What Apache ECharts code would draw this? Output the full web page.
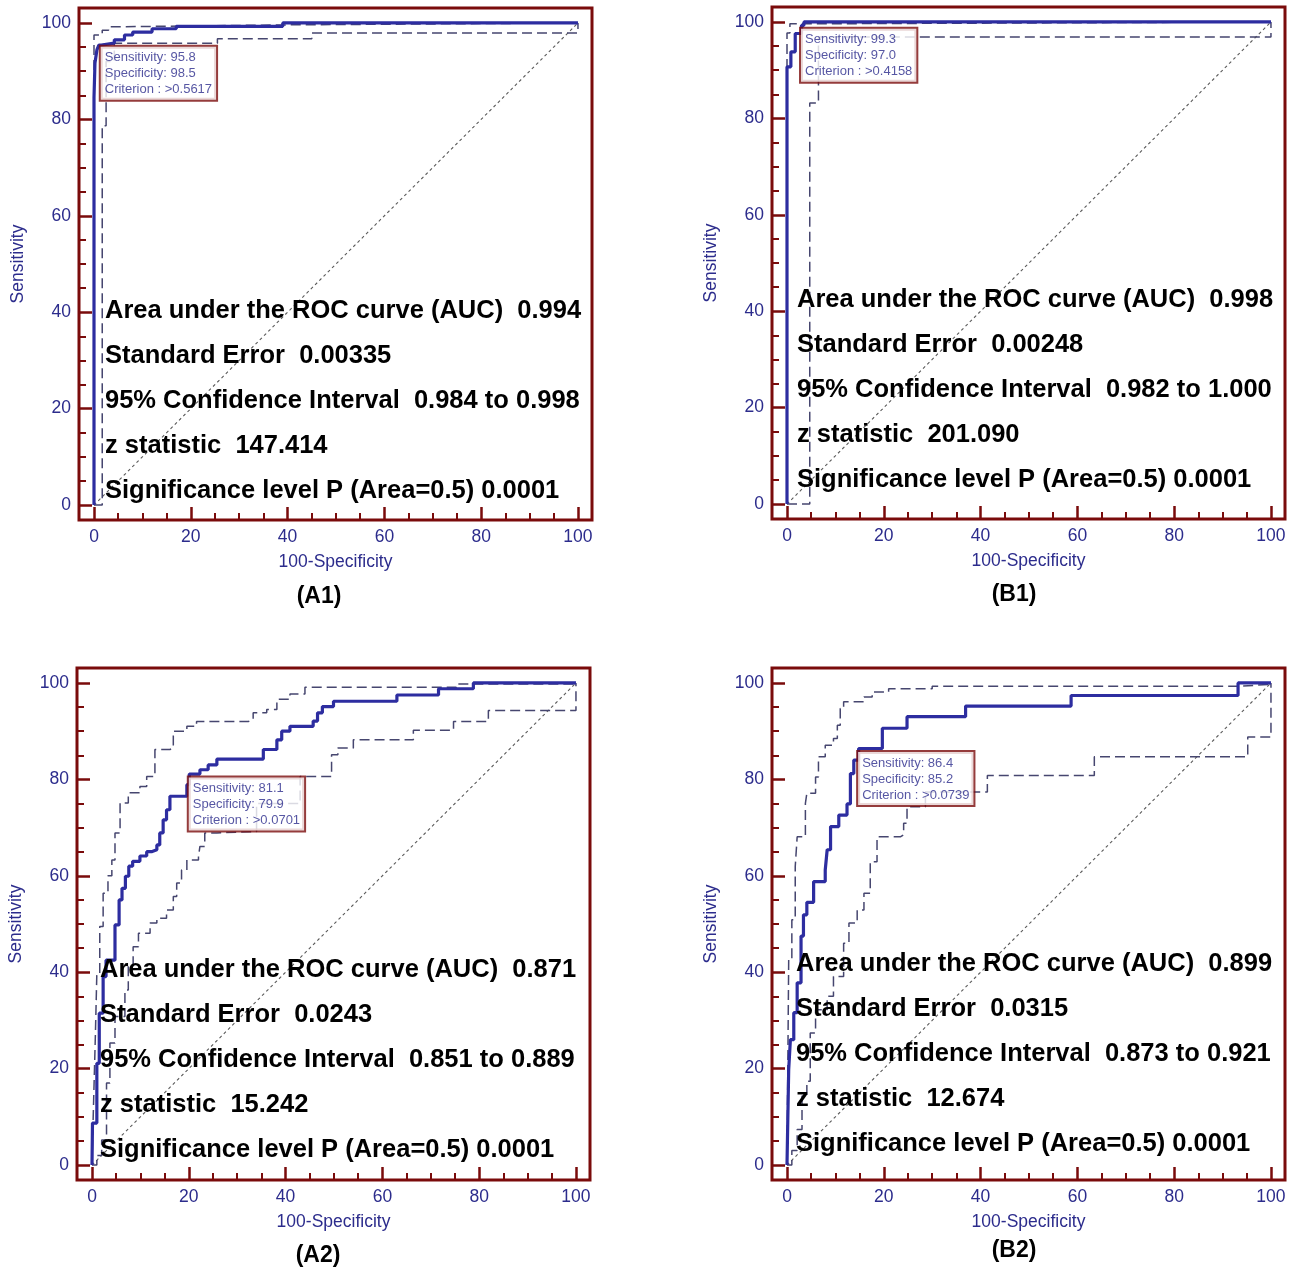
<!DOCTYPE html>
<html><head><meta charset="utf-8">
<script src="https://cdn.jsdelivr.net/npm/echarts@6/dist/echarts.min.js"></script>
<style>html,body{margin:0;padding:0;background:#fff}#c{width:1291px;height:1270px}</style>
</head><body><div id="c"></div>
<script>
// ---------- axis ticks ----------
const xMajor = [0, 20, 40, 60, 80, 100];
const xMinor = [5, 10, 15, 25, 30, 35, 45, 50, 55, 65, 70, 75, 85, 90, 95];
const yMajor = [0, 20, 40, 60, 80, 100];
const yMinor = [5, 10, 15, 25, 30, 35, 45, 50, 55, 65, 70, 75, 85, 90, 95];
const diagonal = [[0, 0], [100, 100]];

// ---------- panel A1 ----------
const a1Roc = [[0,0],[0,84.6],[0.2,91.7],[0.6,94.4],[1.0,95.4],[1.5,95.8],[4.2,96.5],[6.3,97.5],[8,98.1],[12,98.8],[17,99.3],[39,100],[100,100]];
const a1Upper = [[0,0],[0,97.5],[1.7,98.5],[3,99.2],[5,99.6],[40,100],[100,100]];
const a1Lower = [[0,0],[1.7,78.7],[2.5,92.0],[4.2,95.8],[25.5,96.7],[45,97.9],[100,100]];
const a1Stats = ['Area under the ROC curve (AUC)  0.994','Standard Error  0.00335','95% Confidence Interval  0.984 to 0.998','z statistic  147.414','Significance level P (Area=0.5) 0.0001'];

// ---------- panel B1 ----------
const b1Roc = [[0,0],[0,90.7],[0.8,93.8],[1.7,97.6],[3.0,99.3],[3.5,100],[100,100]];
const b1Upper = [[0,0],[0,97.7],[0.6,99.6],[2.5,100],[100,100]];
const b1Lower = [[0,0],[4.7,83.2],[6.5,96.9],[100,100]];
const b1Stats = ['Area under the ROC curve (AUC)  0.998','Standard Error  0.00248','95% Confidence Interval  0.982 to 1.000','z statistic  201.090','Significance level P (Area=0.5) 0.0001'];

// ---------- panel A2 ----------
const a2Roc = [[0,0],[0.1,8.7],[1.0,21.1],[1.5,31.5],[2.3,39.1],[2.9,42.5],[4.75,49.8],[5.6,55.0],[6.2,57.4],[6.9,59.9],[7.6,62.0],[8.4,63.0],[9.9,64.1],[11.3,65.0],[12.3,65.4],[13.4,66.4],[14.0,68.9],[14.7,71.6],[15.4,73.7],[16.1,76.5],[19.6,78.9],[20.1,81.1],[22.3,82.0],[24.0,83.0],[25.8,84.2],[35.4,86.2],[38.2,88.2],[39.2,90.0],[40.9,91.0],[45.7,92.1],[46.6,93.8],[47.6,95.1],[49.9,96.2],[63.0,97.5],[71.6,98.8],[78.8,100],[100,100]];
const a2Upper = [[0,0],[0.3,12],[0.7,27],[1.0,39.8],[1.6,49.5],[2.3,56.4],[3.3,60],[4.1,63.3],[4.75,68.9],[5.8,75.1],[7.5,77.2],[9.9,78.5],[11.3,80.6],[13.0,86.2],[16.1,86.5],[16.8,90.0],[19.6,91.0],[21.6,92.0],[32.3,92.4],[33.3,93.8],[36.1,94.5],[38.2,96.6],[40.9,97.7],[44.0,99.1],[75.3,99.8],[100,100]];
const a2Lower = [[0,0],[1.0,2],[2.0,5.2],[3.0,17],[3.7,25.3],[4.75,30.8],[6.8,36.3],[7.5,41.2],[8.5,45.3],[9.6,48.1],[12.0,50.2],[13.4,51.2],[15.4,52.9],[16.8,55.7],[17.5,58.5],[18.5,61.2],[19.6,63.3],[22.0,64.0],[22.3,66.1],[23.3,68.9],[25.8,69.2],[34,75],[43,80.6],[49.5,85.1],[50.8,86.5],[54.0,88.2],[66.4,90.2],[74.7,92.0],[81.9,94.3],[100,100]];
const a2Stats = ['Area under the ROC curve (AUC)  0.871','Standard Error  0.0243','95% Confidence Interval  0.851 to 0.889','z statistic  15.242','Significance level P (Area=0.5) 0.0001'];

// ---------- panel B2 ----------
const b2Roc = [[0,0],[0.35,19.8],[0.7,26.0],[1.4,31.6],[2.1,37.8],[2.9,47.5],[3.4,51.9],[4.1,54.5],[5.5,58.8],[7.9,61.2],[8.3,65.4],[9.0,70.2],[10.7,72.6],[12.4,74.9],[13.1,81.2],[13.8,84.0],[14.8,86.4],[19.7,90.6],[24.8,93.0],[36.9,95.2],[58.7,97.4],[93.2,100],[100,100]];
const b2Upper = [[0,0],[0.35,42.6],[1.0,50.9],[1.7,61.9],[2.1,68.1],[3.8,75.0],[4.1,77.1],[5.9,80.5],[6.5,84.7],[7.9,87.1],[9.6,88.5],[10.4,91.2],[11.0,94.7],[11.7,96.1],[15.9,97.1],[17.6,98.1],[21.0,98.8],[30,99.3],[93,99.7],[100,100]];
const b2Lower = [[0,0],[1.0,3],[2.1,7.4],[3.1,14.3],[4.1,17.4],[4.8,27.4],[5.9,32.2],[8.3,35.0],[9.6,39.1],[11.7,46.0],[12.8,50.2],[14.5,52.9],[15.9,56.4],[17.2,62.9],[18.6,68.1],[23.5,68.5],[24.1,70.9],[24.8,74.3],[28.6,77.4],[41.4,80.8],[63.5,84.7],[95.2,88.8],[100,100]];
const b2Stats = ['Area under the ROC curve (AUC)  0.899','Standard Error  0.0315','95% Confidence Interval  0.873 to 0.921','z statistic  12.674','Significance level P (Area=0.5) 0.0001'];

// ---------- cut-off annotations ----------
const panelNames = ['(A1)', '(B1)', '(A2)', '(B2)'];
const cutSens = [95.8, 99.3, 81.1, 86.4];
const cutSpec = [98.5, 97.0, 79.9, 85.2];
const cutCrit = ['>0.5617', '>0.4158', '>0.0701', '>0.0739'];

const rocs = [a1Roc, b1Roc, a2Roc, b2Roc];
const uppers = [a1Upper, b1Upper, a2Upper, b2Upper];
const lowers = [a1Lower, b1Lower, a2Lower, b2Lower];
const stats = [a1Stats, b1Stats, a2Stats, b2Stats];

// ---------- layout (pixels) ----------
const layout = [
  {left: 79, top: 8, statX: 105, statY: 311, labX: 319, labY: 597},
  {left: 772, top: 7, statX: 797, statY: 300, labX: 1014, labY: 595},
  {left: 77, top: 668, statX: 100, statY: 970, labX: 318, labY: 1256},
  {left: 772, top: 668, statX: 796, statY: 964, labX: 1014, labY: 1251}
];

const FONT = '"Liberation Sans", Arial, sans-serif';
const FRAME = '#7a0b0b';
const NAVY = '#2c2c8c';
const MAIN = '#2d2da0';
const CI = '#46466f';
const DIAG = '#5a5a5a';

const grid = [], xAxis = [], yAxis = [], series = [], graphic = [];
layout.forEach((L, i) => {
  grid.push({left: L.left, top: L.top, width: 513, height: 512, show: true,
    borderColor: FRAME, borderWidth: 3, backgroundColor: '#fff'});
  const common = {type: 'value', gridIndex: i, axisLine: {show: false, onZero: false}, splitLine: {show: false}};
  xAxis.push(Object.assign({}, common, {min: -3.1, max: 102.9, position: 'bottom',
    axisTick: {show: true, inside: true, length: 13, lineStyle: {color: FRAME, width: 2.5}, customValues: xMajor},
    axisLabel: {customValues: xMajor, color: NAVY, fontSize: 17.5, fontFamily: FONT, margin: 8},
    name: '100-Specificity', nameLocation: 'middle', nameGap: 33,
    nameTextStyle: {color: NAVY, fontSize: 17.5, fontFamily: FONT}}));
  xAxis.push(Object.assign({}, common, {min: -3.1, max: 102.9, position: 'bottom',
    axisTick: {show: true, inside: true, length: 7, lineStyle: {color: FRAME, width: 2}, customValues: xMinor},
    axisLabel: {show: false}}));
  yAxis.push(Object.assign({}, common, {min: -3.1, max: 103.1, position: 'left',
    axisTick: {show: true, inside: true, length: 13, lineStyle: {color: FRAME, width: 2.5}, customValues: yMajor},
    axisLabel: {customValues: yMajor, color: NAVY, fontSize: 17.5, fontFamily: FONT, margin: 8},
    name: 'Sensitivity', nameLocation: 'middle', nameGap: 52,
    nameTextStyle: {color: NAVY, fontSize: 17.5, fontFamily: FONT}}));
  yAxis.push(Object.assign({}, common, {min: -3.1, max: 103.1, position: 'left',
    axisTick: {show: true, inside: true, length: 7, lineStyle: {color: FRAME, width: 2}, customValues: yMinor},
    axisLabel: {show: false}}));

  const ax = {xAxisIndex: 2 * i, yAxisIndex: 2 * i, showSymbol: false, symbol: 'none', silent: true};
  series.push(Object.assign({type: 'line', data: diagonal, z: 1,
    lineStyle: {color: DIAG, width: 1.1, type: [3, 3]}}, ax));
  series.push(Object.assign({type: 'line', data: lowers[i], step: 'end', z: 2,
    lineStyle: {color: CI, width: 1.5, type: [10, 5]}}, ax));
  series.push(Object.assign({type: 'line', data: uppers[i], step: 'end', z: 2,
    lineStyle: {color: CI, width: 1.5, type: [10, 5]}}, ax));
  series.push(Object.assign({type: 'line', data: rocs[i], step: 'end', z: 3,
    lineStyle: {color: MAIN, width: 3.2}}, ax));
  series.push({type: 'scatter', xAxisIndex: 2 * i, yAxisIndex: 2 * i, silent: true, z: 6,
    symbolSize: 1, itemStyle: {color: 'rgba(0,0,0,0)'},
    data: [[+(100 - cutSpec[i]).toFixed(1), cutSens[i]]],
    label: {show: true, position: [0, 4],
      formatter: 'Sensitivity: ' + cutSens[i].toFixed(1) + '\nSpecificity: ' + cutSpec[i].toFixed(1) + '\nCriterion : ' + cutCrit[i],
      color: NAVY, fontSize: 13, fontFamily: FONT, lineHeight: 16,
      backgroundColor: '#fff', borderColor: FRAME, borderWidth: 2, padding: [3, 4, 2, 4]}});

  stats[i].forEach((t, k) => {
    graphic.push({type: 'text', x: L.statX, y: L.statY + 45 * k, z: 100, silent: true,
      style: {text: t, fill: '#000', font: 'bold 25.5px ' + FONT, align: 'left', verticalAlign: 'middle'}});
  });
  graphic.push({type: 'text', x: L.labX, y: L.labY, z: 100, silent: true,
    style: {text: panelNames[i], fill: '#000', font: 'bold 23px ' + FONT, align: 'center', verticalAlign: 'middle'}});
});

const chart = echarts.init(document.getElementById('c'), null, {renderer: 'canvas'});
chart.setOption({animation: false, backgroundColor: '#fff', grid, xAxis, yAxis, series, graphic});
</script></body></html>
